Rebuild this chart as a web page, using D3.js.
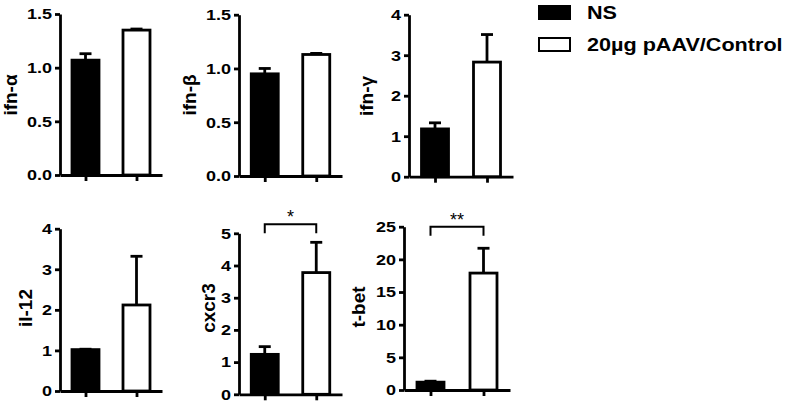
<!DOCTYPE html>
<html>
<head>
<meta charset="utf-8">
<script src="https://cdn.jsdelivr.net/npm/d3@7"></script>
<style>
body { margin: 0; background: #fff; }
text { font-family: "Liberation Sans", Arial, sans-serif; font-weight: bold; fill: #000; }
</style>
</head>
<body>
<svg width="787" height="403"></svg>
<script>
// values
var genes = ["ifn-α", "ifn-β", "ifn-γ", "il-12", "cxcr3", "t-bet"];
var groups = ["NS", "20µg pAAV/Control"];
var nsMean = [1.07, 0.95, 1.18, 1.02, 1.24, 1.2];
var nsErr = [0.06, 0.05, 0.15, 0.01, 0.24, 0.15];
var aavMean = [1.35, 1.13, 2.83, 2.12, 3.78, 17.9];
var aavErr = [0.01, 0.01, 0.68, 1.2, 0.94, 3.8];
var yMax = [1.5, 1.5, 4, 4, 5, 25];
var yTicks = [[0, 0.5, 1, 1.5], [0, 0.5, 1, 1.5], [0, 1, 2, 3, 4], [0, 1, 2, 3, 4], [0, 1, 2, 3, 4, 5], [0, 5, 10, 15, 20, 25]];
var tickFmt = [".1f", ".1f", "d", "d", "d", "d"];
var sigMarks = ["", "", "", "", "*", "**"];
var sigLevel = [0, 0, 0, 0, 5.28, 25];

// panel placement
var panels = [
  {x0: 60,  x1: 162, y0: 175,   y1: 14,    lx: 17,  ly: 95},
  {x0: 239, x1: 342, y0: 176,   y1: 14.7,  lx: 196, ly: 95},
  {x0: 409, x1: 513, y0: 176.7, y1: 14.7,  lx: 373, ly: 96},
  {x0: 60,  x1: 162, y0: 391,   y1: 228.7, lx: 32,  ly: 308},
  {x0: 239, x1: 342, y0: 394.3, y1: 233.3, lx: 215, ly: 308},
  {x0: 404, x1: 510, y0: 390,   y1: 226.7, lx: 365, ly: 307}
];

var svg = d3.select("svg");
var stretch = 1.2, barW = 27, capW = 12, lw = 2.8;

genes.forEach(function(gene, i) {
  var p = panels[i];
  var g = svg.append("g");

  var x = d3.scalePoint().domain(groups).range([p.x0, p.x1]).padding(0.5);
  var y = d3.scaleLinear().domain([0, yMax[i]]).range([p.y0, p.y1]);

  var yAxis = g.append("g")
      .attr("transform", "translate(" + p.x0 + ",0)")
      .call(d3.axisLeft(y).tickValues(yTicks[i]).tickFormat(d3.format(tickFmt[i])).tickSize(5).tickSizeOuter(0));
  yAxis.selectAll("text")
      .attr("x", -8 / stretch)
      .attr("transform", "scale(" + stretch + ",1)")
      .style("font-size", "15px");

  g.append("g")
      .attr("transform", "translate(0," + p.y0 + ")")
      .call(d3.axisBottom(x).tickSize(6).tickSizeOuter(0).tickFormat(""));

  g.selectAll(".domain, .tick line").attr("stroke", "#000").attr("stroke-width", lw);

  var rows = [
    {grp: groups[0], m: nsMean[i], e: nsErr[i], fill: "#000"},
    {grp: groups[1], m: aavMean[i], e: aavErr[i], fill: "#fff"}
  ];

  // error bars (upper only)
  rows.forEach(function(r) {
    var cx = x(r.grp);
    g.append("line").attr("x1", cx).attr("x2", cx).attr("y1", y(r.m)).attr("y2", y(r.m + r.e))
        .attr("stroke", "#000").attr("stroke-width", lw);
    g.append("line").attr("x1", cx - capW / 2).attr("x2", cx + capW / 2).attr("y1", y(r.m + r.e)).attr("y2", y(r.m + r.e))
        .attr("stroke", "#000").attr("stroke-width", lw);
  });

  g.selectAll("rect.bar")
    .data(rows)
    .enter().append("rect")
      .attr("class", "bar")
      .attr("x", function(d) { return x(d.grp) - barW / 2; })
      .attr("y", function(d) { return y(d.m); })
      .attr("width", barW)
      .attr("height", function(d) { return p.y0 - y(d.m); })
      .attr("fill", function(d) { return d.fill; })
      .attr("stroke", "#000")
      .attr("stroke-width", lw);

  // y title
  g.append("text")
      .attr("transform", "translate(" + p.lx + "," + p.ly + ") rotate(-90)")
      .attr("text-anchor", "middle")
      .style("font-size", "19px")
      .text(gene);

  // significance bracket
  if (sigMarks[i]) {
    var by = y(sigLevel[i]), xa = x(groups[0]), xb = x(groups[1]);
    g.append("path")
        .attr("d", "M" + xa + "," + (by + 9) + "V" + by + "H" + xb + "V" + (by + 9))
        .attr("fill", "none").attr("stroke", "#000").attr("stroke-width", 2);
    g.append("text")
        .attr("x", (xa + xb) / 2).attr("y", by - 1)
        .attr("text-anchor", "middle")
        .style("font-size", "18px").style("font-weight", "normal")
        .text(sigMarks[i]);
  }
});

// legend
var leg = svg.append("g");
groups.forEach(function(name, k) {
  var ly = k === 0 ? 5 : 37;
  leg.append("rect")
      .attr("x", 539).attr("y", ly + 1).attr("width", 31).attr("height", 13)
      .attr("fill", k === 0 ? "#000" : "#fff")
      .attr("stroke", "#000").attr("stroke-width", 2);
  leg.append("text")
      .attr("x", 587 / stretch).attr("y", ly + 14)
      .attr("transform", "scale(" + stretch + ",1)")
      .style("font-size", "18px")
      .text(name);
});
</script>
</body>
</html>
